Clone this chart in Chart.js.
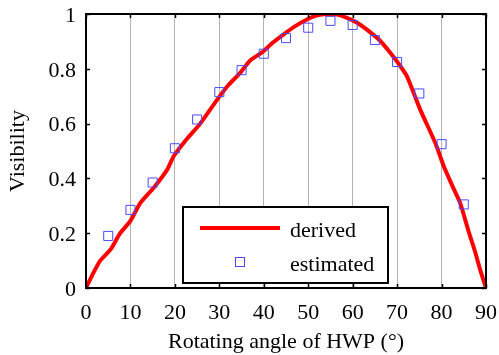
<!DOCTYPE html>
<html>
<head>
<meta charset="utf-8">
<script src="https://cdn.jsdelivr.net/npm/chart.js@4/dist/chart.umd.min.js"></script>
<style>
html,body{margin:0;padding:0;background:#fff;}
#wrap{width:499px;height:355px;position:relative;}
</style>
</head>
<body>
<div id="wrap"><canvas id="c" width="499" height="355"></canvas></div>
<script>
// ---- data ----
const derivedX = [0, 1.5, 3.2, 5.5, 7.7, 10, 12.2, 15.2, 18.2, 19.7, 22.5, 25.7, 29.4, 32, 34.7, 36.9, 39.6, 42, 44.4, 47, 49.7, 52, 54.2, 56.5, 58.7, 61, 63.2, 66, 68.5, 70.5, 72.2, 75.2, 78.6, 80.5, 82.5, 84.2, 86.1, 87.5, 88.7, 89.9];
const derivedY = [0, 0.05, 0.10, 0.14, 0.20, 0.245, 0.31, 0.365, 0.43, 0.48, 0.54, 0.60, 0.685, 0.74, 0.785, 0.83, 0.86, 0.895, 0.925, 0.955, 0.98, 0.995, 1.0, 0.998, 0.986, 0.968, 0.943, 0.905, 0.858, 0.815, 0.773, 0.651, 0.529, 0.444, 0.37, 0.31, 0.206, 0.135, 0.066, 0.005];
const estimatedX = [5, 10, 15, 20, 25, 30, 35, 40, 45, 50, 55, 60, 65, 70, 75, 80, 85];
const estimatedY = [0.19, 0.285, 0.385, 0.51, 0.615, 0.715, 0.795, 0.855, 0.912, 0.95, 0.975, 0.96, 0.905, 0.825, 0.71, 0.525, 0.305];
const xTicks = [0, 10, 20, 30, 40, 50, 60, 70, 80, 90];
const yTicks = [0, 0.2, 0.4, 0.6, 0.8, 1];
const seriesNames = ['derived', 'estimated'];
const xTitle = 'Rotating angle of HWP (°)';
const yTitle = 'Visibility';

const FONT = "'Liberation Serif', 'DejaVu Serif', serif";
const FS = 22;
const RED = '#ff0000';
const BLUE = '#4a4aff';

const framePlugin = {
  id: 'frame',
  afterDatasetsDraw(chart) {
    const {ctx, chartArea: a, scales: {x, y}} = chart;
    ctx.save();
    ctx.strokeStyle = '#000';
    ctx.lineWidth = 2;
    ctx.strokeRect(a.left, a.top, a.right - a.left, a.bottom - a.top);
    ctx.lineWidth = 1.5;
    const L = 4;
    ctx.beginPath();
    xTicks.forEach(v => {
      const px = Math.round(x.getPixelForValue(v)) + 0.5;
      ctx.moveTo(px, a.bottom); ctx.lineTo(px, a.bottom - L);
      ctx.moveTo(px, a.top); ctx.lineTo(px, a.top + L);
    });
    yTicks.forEach(v => {
      const py = Math.round(y.getPixelForValue(v)) + 0.5;
      ctx.moveTo(a.left, py); ctx.lineTo(a.left + L, py);
      ctx.moveTo(a.right, py); ctx.lineTo(a.right - L, py);
    });
    ctx.stroke();
    ctx.restore();
  },
  afterDraw(chart) {
    const {ctx} = chart;
    const ds = chart.data.datasets;
    const bx = 183, by = 207, bw = 205, bh = 76;
    ctx.save();
    ctx.fillStyle = '#fff';
    ctx.fillRect(bx, by, bw, bh);
    ctx.strokeStyle = '#000';
    ctx.lineWidth = 2;
    ctx.strokeRect(bx, by, bw, bh);
    ctx.strokeStyle = ds[0].borderColor;
    ctx.lineWidth = 4;
    ctx.beginPath();
    ctx.moveTo(200, 228); ctx.lineTo(280, 228);
    ctx.stroke();
    ctx.strokeStyle = ds[1].borderColor;
    ctx.lineWidth = 1;
    ctx.strokeRect(235.5, 257.5, 9, 9);
    ctx.fillStyle = '#000';
    ctx.font = FS + 'px ' + FONT;
    ctx.textBaseline = 'middle';
    ctx.fillText(ds[0].label, 290, 231);
    ctx.fillText(ds[1].label, 290, 265);
    ctx.restore();
  }
};

new Chart(document.getElementById('c'), {
  type: 'scatter',
  data: {
    datasets: [
      {
        label: seriesNames[0],
        data: derivedX.map((v, i) => ({x: v, y: derivedY[i]})),
        showLine: true,
        borderColor: RED,
        borderWidth: 4,
        pointRadius: 0,
        tension: 0.2,
        order: 1
      },
      {
        label: seriesNames[1],
        data: estimatedX.map((v, i) => ({x: v, y: estimatedY[i]})),
        showLine: false,
        borderColor: BLUE,
        backgroundColor: 'rgba(0,0,0,0)',
        pointStyle: 'rect',
        pointRadius: 6.4,
        pointBorderWidth: 1,
        order: 0
      }
    ]
  },
  options: {
    responsive: false,
    animation: false,
    layout: {padding: {top: 14, right: 13, left: 0, bottom: 0}},
    plugins: {legend: {display: false}, tooltip: {enabled: false}},
    scales: {
      x: {
        type: 'linear', min: 0, max: 90,
        afterBuildTicks(s) { s.ticks = xTicks.map(v => ({value: v})); },
        afterFit(s) { s.height = 67; s.paddingLeft = 0; s.paddingRight = 0; },
        grid: {
          color: c => (c.tick && (c.tick.value === 0 || c.tick.value === 90)) ? 'rgba(0,0,0,0)' : '#b4b4b4',
          lineWidth: 1, drawTicks: false
        },
        border: {display: false},
        ticks: {color: '#000', font: {family: FONT, size: FS}, padding: 12, maxRotation: 0},
        title: {display: true, text: xTitle, color: '#000', font: {family: FONT, size: FS}, padding: {top: 0, bottom: 0}}
      },
      y: {
        type: 'linear', min: 0, max: 1,
        afterBuildTicks(s) { s.ticks = yTicks.map(v => ({value: v})); },
        afterFit(s) { s.width = 86; s.paddingTop = 0; s.paddingBottom = 0; },
        grid: {display: false, drawTicks: false},
        border: {display: false},
        ticks: {color: '#000', font: {family: FONT, size: FS}, padding: 10, labelOffset: 2, callback: v => String(v)},
        title: {display: true, text: yTitle, color: '#000', font: {family: FONT, size: FS}, padding: {top: 5, bottom: 0}}
      }
    }
  },
  plugins: [framePlugin]
});
</script>
</body>
</html>
